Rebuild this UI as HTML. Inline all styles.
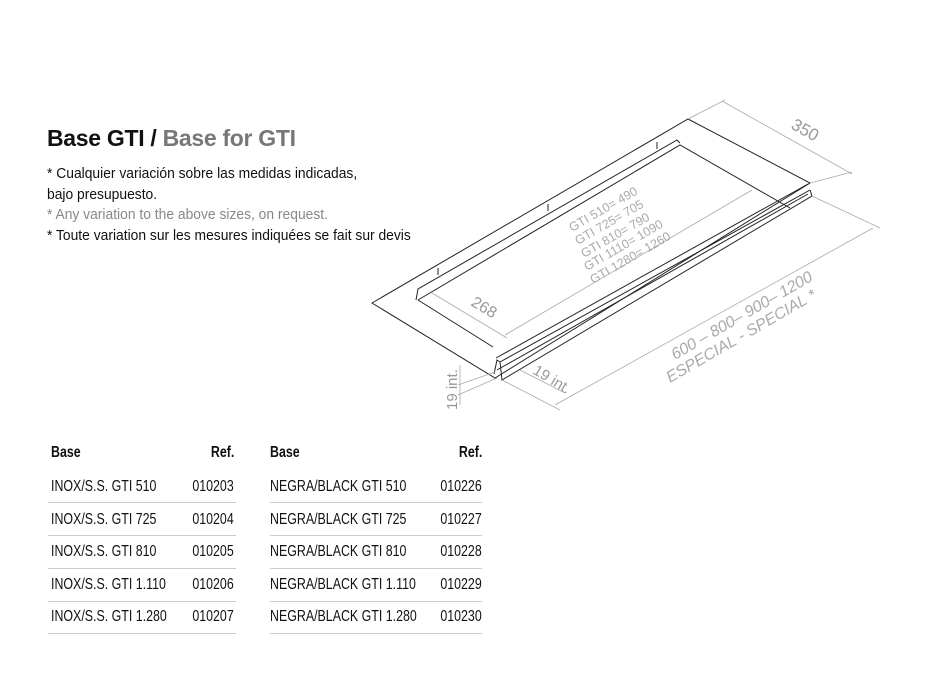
<!DOCTYPE html>
<html><head><meta charset="utf-8"><style>
body{margin:0;background:#fff;width:950px;height:700px;overflow:hidden;position:relative;font-family:"Liberation Sans",sans-serif;color:#111}
.t{position:absolute;white-space:nowrap;transform-origin:0 0}
.r{position:absolute;white-space:nowrap;transform-origin:100% 0;text-align:right}
h1{position:absolute;left:47px;top:125px;margin:0;font-size:23px;font-weight:bold;letter-spacing:-0.3px;white-space:nowrap}
h1 span{color:#777}
.n{font-size:14.5px;transform:scaleX(0.955)}
.tb{font-size:15.5px;transform:scaleX(0.8)}
.row{position:absolute;height:1px;background:#ccc}
</style></head><body>
<h1>Base GTI / <span>Base for GTI</span></h1>
<div class="t n" style="left:47px;top:166px">* Cualquier variación sobre las medidas indicadas,</div>
<div class="t n" style="left:47px;top:187px">bajo presupuesto.</div>
<div class="t n" style="left:47px;top:207px;color:#888">* Any variation to the above sizes, on request.</div>
<div class="t n" style="left:47px;top:228px">* Toute variation sur les mesures indiquées se fait sur devis</div>

<svg width="950" height="700" style="position:absolute;left:0;top:0" xmlns="http://www.w3.org/2000/svg">
<g fill="none" stroke="#222" stroke-width="1">
<polygon points="372,303 688,119 810,183 495,378"/>
<polyline points="416,300 418,289 677,140 680,143"/>
<polyline points="418,300 680,145 790,208"/>
<line x1="418" y1="300" x2="493" y2="347"/>
<line x1="496" y1="358" x2="808" y2="184"/>
<line x1="500" y1="362" x2="810" y2="190"/>
<polyline points="494,374 497,360 500,362 502,380 812,196 810,190"/>
<line x1="497" y1="370" x2="808" y2="194"/>
<line x1="438" y1="275" x2="438" y2="268"/><line x1="548" y1="211" x2="548" y2="204"/><line x1="657" y1="149" x2="657" y2="142"/>
</g>
<g fill="none" stroke="#aaa" stroke-width="0.8">
<line x1="688" y1="119" x2="725" y2="100"/><line x1="810" y1="183" x2="852" y2="172"/>
<line x1="722" y1="101" x2="852" y2="174"/>
<line x1="812" y1="196" x2="880" y2="228"/><line x1="502" y1="380" x2="560" y2="410"/>
<line x1="555" y1="405" x2="873" y2="228"/>
<line x1="432" y1="293" x2="507" y2="338"/>
<line x1="505" y1="335" x2="752" y2="190"/>
<line x1="520" y1="370" x2="565" y2="393"/>
<line x1="460" y1="365" x2="460" y2="405"/>
<line x1="458" y1="385" x2="495" y2="372"/><line x1="458" y1="395" x2="497" y2="378"/>
</g>
<g fill="#999" font-family="Liberation Sans,sans-serif" font-size="14">
<text transform="translate(790,128) rotate(29)" font-size="17">350</text>
<text transform="translate(470,305) rotate(31)" font-size="16">268</text>
<text transform="translate(532,373) rotate(31)" font-size="15">19 int.</text>
<text transform="translate(457,410) rotate(-90)" font-size="15">19 int.</text>
<g font-size="12.5" fill="#aaa">
<text transform="translate(572,232) rotate(-30)">GTI 510= 490</text>
<text transform="translate(578,245) rotate(-30)">GTI 725= 705</text>
<text transform="translate(584,258) rotate(-30)">GTI 810= 790</text>
<text transform="translate(587,271) rotate(-30)">GTI 1110= 1090</text>
<text transform="translate(593,284) rotate(-30)">GTI 1280= 1260</text>
</g>
<g font-style="italic" font-size="16" fill="#aaa">
<text transform="translate(675,360) rotate(-30)">600 – 800– 900– 1200</text>
<text transform="translate(670,383) rotate(-30)">ESPECIAL - SPECIAL *</text>
</g>
</g>
</svg>

<div class="t tb" style="left:51px;top:444px;font-weight:bold">Base</div>
<div class="r tb" style="right:716px;top:444px;font-weight:bold">Ref.</div>
<div class="t tb" style="left:270px;top:444px;font-weight:bold">Base</div>
<div class="r tb" style="right:468px;top:444px;font-weight:bold">Ref.</div>

<div class="t tb" style="left:51px;top:478px">INOX/S.S. GTI 510</div><div class="r tb" style="right:716px;top:478px">010203</div>
<div class="t tb" style="left:51px;top:511px">INOX/S.S. GTI 725</div><div class="r tb" style="right:716px;top:511px">010204</div>
<div class="t tb" style="left:51px;top:543px">INOX/S.S. GTI 810</div><div class="r tb" style="right:716px;top:543px">010205</div>
<div class="t tb" style="left:51px;top:576px">INOX/S.S. GTI 1.110</div><div class="r tb" style="right:716px;top:576px">010206</div>
<div class="t tb" style="left:51px;top:608px">INOX/S.S. GTI 1.280</div><div class="r tb" style="right:716px;top:608px">010207</div>

<div class="t tb" style="left:270px;top:478px">NEGRA/BLACK GTI 510</div><div class="r tb" style="right:468px;top:478px">010226</div>
<div class="t tb" style="left:270px;top:511px">NEGRA/BLACK GTI 725</div><div class="r tb" style="right:468px;top:511px">010227</div>
<div class="t tb" style="left:270px;top:543px">NEGRA/BLACK GTI 810</div><div class="r tb" style="right:468px;top:543px">010228</div>
<div class="t tb" style="left:270px;top:576px">NEGRA/BLACK GTI 1.110</div><div class="r tb" style="right:468px;top:576px">010229</div>
<div class="t tb" style="left:270px;top:608px">NEGRA/BLACK GTI 1.280</div><div class="r tb" style="right:468px;top:608px">010230</div>

<div class="row" style="left:48px;width:188px;top:502px"></div>
<div class="row" style="left:48px;width:188px;top:535px"></div>
<div class="row" style="left:48px;width:188px;top:568px"></div>
<div class="row" style="left:48px;width:188px;top:601px"></div>
<div class="row" style="left:48px;width:188px;top:633px"></div>
<div class="row" style="left:270px;width:212px;top:502px"></div>
<div class="row" style="left:270px;width:212px;top:535px"></div>
<div class="row" style="left:270px;width:212px;top:568px"></div>
<div class="row" style="left:270px;width:212px;top:601px"></div>
<div class="row" style="left:270px;width:212px;top:633px"></div>
</body></html>
